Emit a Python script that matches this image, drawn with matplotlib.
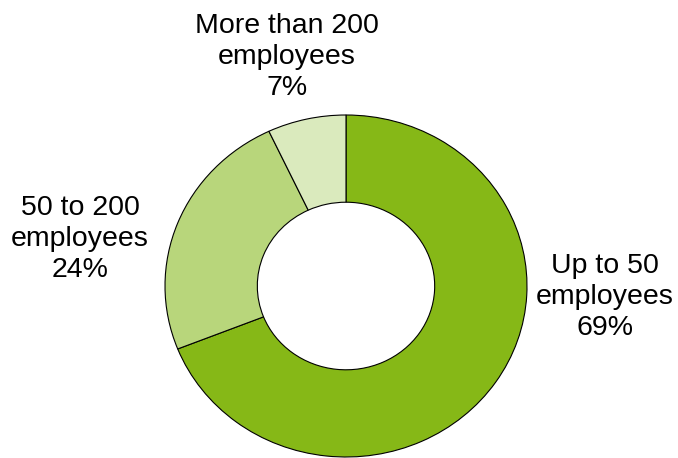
import matplotlib
matplotlib.use("Agg")
from matplotlib import pyplot as plt

# company size shares (%)
labels = ["Up to 50\nemployees", "50 to 200\nemployees", "More than 200\nemployees"]
shares = [69, 24, 7]
colors = ["#86b817", "#b8d67b", "#daeabd"]

W, H = 678, 458
fig = plt.figure(figsize=(W / 100, H / 100), dpi=100)
plt.rcParams["font.family"] = ["Liberation Sans", "DejaVu Sans"]

# donut axes placed in pixel terms (ring is slightly squashed vertically)
ax = fig.add_axes([165 / W, 1 / H, 362 / W, 342 / H])
ax.pie(shares, colors=colors, startangle=90, counterclock=False,
       wedgeprops=dict(width=0.51, edgecolor="black", linewidth=0.8))
ax.set_aspect("auto")
ax.set_xlim(-1, 1)
ax.set_ylim(-1, 1)

# label centres, pixels from the top-left corner
label_pos = [(605, 297), (80, 239), (287, 57)]
for lab, val, (px, py) in zip(labels, shares, label_pos):
    fig.text(px / W, 1 - py / H, f"{lab}\n{val}%", ha="center", va="center",
             fontsize=20.5, linespacing=1.25, color="black")

fig.savefig("out.png", dpi=100)
